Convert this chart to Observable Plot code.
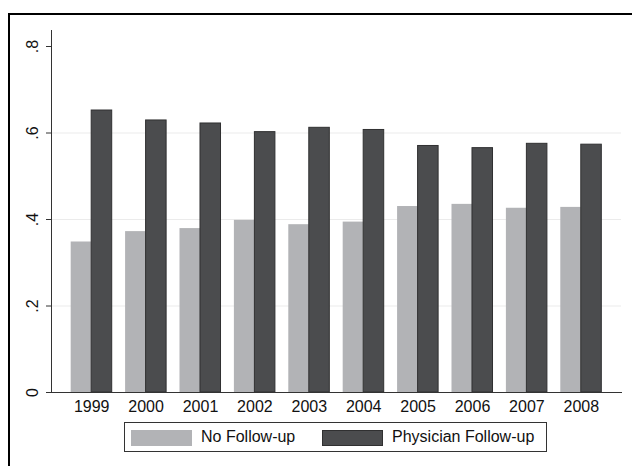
<!DOCTYPE html>
<html><head><meta charset="utf-8">
<script src="https://cdn.jsdelivr.net/npm/d3@7"></script>
<script src="https://cdn.jsdelivr.net/npm/@observablehq/plot@0.6"></script>
<style>
body{margin:0;background:#fff;font-family:"Liberation Sans",Arial,sans-serif;}
#wrap{position:relative;width:632px;height:466px;overflow:hidden;}
#frame{position:absolute;left:8px;top:13px;width:640px;height:470px;border-top:2px solid #000;border-left:2px solid #000;}
#chart{position:absolute;left:0;top:0;}
#legend{position:absolute;left:124px;top:422px;width:421px;height:28px;border:1px solid #333;font-size:16px;color:#111;}
#legend .sw{position:absolute;top:7px;width:61px;height:16px;}
#legend .lb{position:absolute;top:5px;line-height:18px;white-space:nowrap;}
</style></head>
<body>
<div id="wrap">
  <div id="chart"></div>
  <div id="legend"></div>
  <div id="frame"></div>
</div>
<script>
const years = ["1999","2000","2001","2002","2003","2004","2005","2006","2007","2008"];
const noFollowUp = [0.348,0.372,0.379,0.398,0.388,0.394,0.430,0.435,0.426,0.428];
const physicianFollowUp = [0.652,0.629,0.622,0.602,0.612,0.607,0.570,0.565,0.575,0.573];
const yTicks = [0,0.2,0.4,0.6,0.8];
const yTickLabels = ["0",".2",".4",".6",".8"];
const seriesNames = ["No Follow-up","Physician Follow-up"];
const seriesColors = ["#b2b3b6","#4b4c4e"];

const rows = years.map((y,i)=>({year:y, no:noFollowUp[i], phys:physicianFollowUp[i]}));

const chart = Plot.plot({
  width:632, height:416,
  marginLeft:51, marginRight:11, marginTop:30, marginBottom:24,
  style:{fontFamily:'"Liberation Sans",Arial,sans-serif', fontSize:"16px", color:"#111", background:"transparent"},
  x:{domain:years, paddingInner:0.246, paddingOuter:0.362, round:false, label:null},
  y:{domain:[0,0.837], label:null},
  marks:[
    Plot.gridY([0.2,0.4,0.6], {stroke:"#ebebeb", strokeOpacity:1}),
    Plot.barY(rows, {x:"year", y:"no", fill:seriesColors[0], insetRight:20.5}),
    Plot.barY(rows, {x:"year", y:"phys", fill:seriesColors[1], stroke:"#303031", strokeWidth:1, insetLeft:20.5}),
    Plot.axisX({tickSize:0, tickPadding:8, fontSize:16}),
    Plot.axisY(yTicks, {tickSize:5, tickFormat:()=>"", stroke:"#333"}),
    Plot.text(yTicks, {y:d=>d, text:(d,i)=>yTickLabels[i], frameAnchor:"left", dx:-19, rotate:-90, textAnchor:"middle", lineAnchor:"middle", fontSize:16, fill:"#111"}),
    Plot.frame({anchor:"left", stroke:"#333"}),
    Plot.frame({anchor:"bottom", stroke:"#333"})
  ]
});
document.getElementById("chart").appendChild(chart);

const lg = document.getElementById("legend");
const pos = [{sw:6, lb:76},{sw:197, lb:267}];
seriesNames.forEach((n,i)=>{
  const s = document.createElement("div"); s.className="sw"; s.style.left=pos[i].sw+"px"; s.style.background=seriesColors[i];
  if(i===1) s.style.boxShadow="inset 0 0 0 1px #303031";
  const t = document.createElement("div"); t.className="lb"; t.style.left=pos[i].lb+"px"; t.textContent=n;
  lg.appendChild(s); lg.appendChild(t);
});
</script>
</body></html>
